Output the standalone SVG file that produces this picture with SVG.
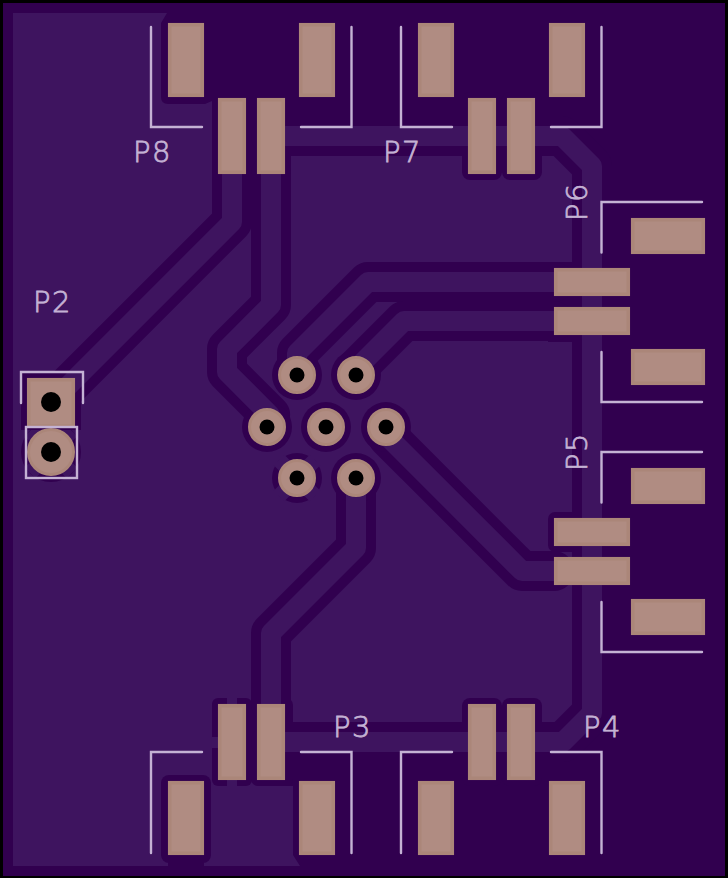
<svg xmlns="http://www.w3.org/2000/svg" width="728" height="878" viewBox="0 0 728 878">
<style>
.dk{fill:#31004f}.lt{fill:#3e145f}
.clr{fill:none;stroke:#31004f;stroke-width:40;stroke-linejoin:round;stroke-linecap:round}
.trc{fill:none;stroke:#3e145f;stroke-width:20;stroke-linejoin:round;stroke-linecap:round}
.pad{fill:#b08c82;stroke:#ab8679;stroke-width:3.5}
.via{fill:#b08c82;stroke:#ab8679;stroke-width:3}
.drill{fill:#000}
.silk{fill:none;stroke:#c4b2d4;stroke-width:2.4;stroke-linecap:round}
.lbl{font-family:"DejaVu Sans",sans-serif;font-size:29px;font-weight:200;fill:#c4b2d4;stroke:#c4b2d4;stroke-width:.8px;letter-spacing:1.5px}
</style>
<rect width="728" height="878" fill="#000"/>
<rect class="dk" x="3" y="3" width="722" height="873"/>
<g id="pour">
<path class="lt" d="M13 13H167L161 23V97Q161 104 168 104H205L212 101V126H567L602 161V717L567 752H285V786H293V855L300 866H13Z"/>
<rect class="dk" x="212" y="92" width="79" height="88"/>
<rect class="dk" x="462" y="92" width="40" height="88" rx="8"/>
<rect class="dk" x="502" y="92" width="40" height="88" rx="8"/>
<rect class="dk" x="462" y="698" width="40" height="88" rx="8"/>
<rect class="dk" x="502" y="698" width="40" height="88" rx="8"/>
<rect class="dk" x="548" y="512" width="40" height="40" rx="7"/>
<rect class="dk" x="548" y="262" width="34" height="80"/>
<rect class="dk" x="161" y="775" width="50" height="88" rx="8"/>
<rect class="dk" x="168" y="850" width="36" height="16"/>
<rect class="dk" x="212" y="698" width="40" height="88" rx="6"/>
<rect class="dk" x="251" y="698" width="42" height="88" rx="7"/>
<rect class="lt" x="227" y="698" width="10" height="7"/>
<rect class="lt" x="227" y="779" width="10" height="7"/>
<rect class="lt" x="212" y="737" width="7" height="11"/>
</g>
<g id="connectors">
<path class="clr" d="M271 136H562L592 166V713L563 742H271"/>
<path class="clr" d="M232 174V222L51 403"/>
<path class="clr" d="M271 174V305L227 349V372L270 415L267 427"/>
<path class="clr" d="M554 282H368L297 353V375"/>
<path class="clr" d="M554 321H404L356 369V375"/>
<path class="clr" d="M554 571H522L388 437L386 427"/>
<path class="clr" d="M271 704V633L356 548V478"/>
<circle class="dk" cx="297" cy="375" r="25"/>
<circle class="dk" cx="356" cy="375" r="25"/>
<circle class="dk" cx="267" cy="427" r="25"/>
<circle class="dk" cx="326" cy="427" r="25"/>
<circle class="dk" cx="386" cy="427" r="25"/>
<circle class="dk" cx="297" cy="478" r="25"/>
<circle class="dk" cx="356" cy="478" r="25"/>
<path d="M279 460L315 496M315 460L279 496" fill="none" stroke="#3e145f" stroke-width="15"/>
<circle class="dk" cx="51" cy="452" r="30"/>
<path d="M30 431L72 473M72 431L30 473" fill="none" stroke="#3e145f" stroke-width="15"/>
<rect class="dk" x="21" y="372" width="60" height="58"/>
<path class="trc" d="M271 136H562L592 166V713L563 742H271"/>
<path class="trc" d="M232 174V222L51 403"/>
<path class="trc" d="M271 174V305L227 349V372L270 415L267 427"/>
<path class="trc" d="M554 282H368L297 353V375"/>
<path class="trc" d="M554 321H404L356 369V375"/>
<path class="trc" d="M554 571H522L388 437L386 427"/>
<path class="trc" d="M271 704V633L356 548V478"/>
</g>
<g id="P8">
<rect class="pad" x="169.7" y="24.7" width="32.6" height="70.6"/><rect class="pad" x="300.7" y="24.7" width="32.6" height="70.6"/>
<rect class="pad" x="219.7" y="99.7" width="24.6" height="72.6"/><rect class="pad" x="258.7" y="99.7" width="24.6" height="72.6"/>
<path class="silk" d="M151 27V127H202M301 127H351.500V27"/>
<text class="lbl" x="133" y="162">P8</text>
</g>
<g id="P7">
<rect class="pad" x="419.700" y="24.7" width="32.6" height="70.6"/><rect class="pad" x="550.700" y="24.7" width="32.6" height="70.6"/>
<rect class="pad" x="469.700" y="99.7" width="24.6" height="72.6"/><rect class="pad" x="508.700" y="99.7" width="24.6" height="72.6"/>
<path class="silk" d="M401 27V127H452M551 127H601.500V27"/>
<text class="lbl" x="383" y="162">P7</text>
</g>
<g id="P6">
<rect class="pad" x="632.700" y="219.700" width="70.600" height="32.600"/><rect class="pad" x="632.700" y="350.700" width="70.600" height="32.600"/>
<rect class="pad" x="555.700" y="269.700" width="72.600" height="24.600"/><rect class="pad" x="555.700" y="308.700" width="72.600" height="24.600"/>
<path class="silk" d="M601.500 252.500V202H702M601.500 352V402H702"/>
<text class="lbl" transform="translate(587 221) rotate(-90)">P6</text>
</g>
<g id="P5">
<rect class="pad" x="632.700" y="469.700" width="70.600" height="32.600"/><rect class="pad" x="632.700" y="600.700" width="70.600" height="32.600"/>
<rect class="pad" x="555.700" y="519.700" width="72.600" height="24.600"/><rect class="pad" x="555.700" y="558.700" width="72.600" height="24.600"/>
<path class="silk" d="M601.500 502.500V452H702M601.500 602V652H702"/>
<text class="lbl" transform="translate(587 471) rotate(-90)">P5</text>
</g>
<g id="P3">
<rect class="pad" x="169.7" y="782.700" width="32.6" height="70.6"/><rect class="pad" x="300.7" y="782.700" width="32.6" height="70.6"/>
<rect class="pad" x="219.7" y="705.7" width="24.6" height="72.6"/><rect class="pad" x="258.7" y="705.7" width="24.6" height="72.6"/>
<path class="silk" d="M151 853V752H202M301 752H351.500V853"/>
<text class="lbl" x="333" y="737">P3</text>
</g>
<g id="P4">
<rect class="pad" x="419.700" y="782.700" width="32.6" height="70.6"/><rect class="pad" x="550.700" y="782.700" width="32.6" height="70.6"/>
<rect class="pad" x="469.700" y="705.7" width="24.6" height="72.6"/><rect class="pad" x="508.700" y="705.7" width="24.6" height="72.6"/>
<path class="silk" d="M401 853V752H452M551 752H601.500V853"/>
<text class="lbl" x="583" y="737">P4</text>
</g>
<g id="hub">
<circle class="via" cx="297" cy="375" r="17.500"/><circle class="drill" cx="297" cy="375" r="7.500"/>
<circle class="via" cx="356" cy="375" r="17.500"/><circle class="drill" cx="356" cy="375" r="7.500"/>
<circle class="via" cx="267" cy="427" r="17.500"/><circle class="drill" cx="267" cy="427" r="7.500"/>
<circle class="via" cx="326" cy="427" r="17.500"/><circle class="drill" cx="326" cy="427" r="7.500"/>
<circle class="via" cx="386" cy="427" r="17.500"/><circle class="drill" cx="386" cy="427" r="7.500"/>
<circle class="via" cx="297" cy="478" r="17.500"/><circle class="drill" cx="297" cy="478" r="7.500"/>
<circle class="via" cx="356" cy="478" r="17.500"/><circle class="drill" cx="356" cy="478" r="7.500"/>
</g>
<g id="P2">
<rect class="pad" x="28.700" y="379.700" width="44.600" height="46.600"/>
<circle class="drill" cx="51" cy="402" r="10"/>
<circle class="via" cx="51" cy="452" r="22.500"/>
<circle class="drill" cx="51" cy="452" r="10"/>
<path class="silk" d="M21 403V372H83V403"/>
<rect class="silk" x="26" y="427" width="51" height="51"/>
<text class="lbl" x="33" y="312">P2</text>
</g>
</svg>
